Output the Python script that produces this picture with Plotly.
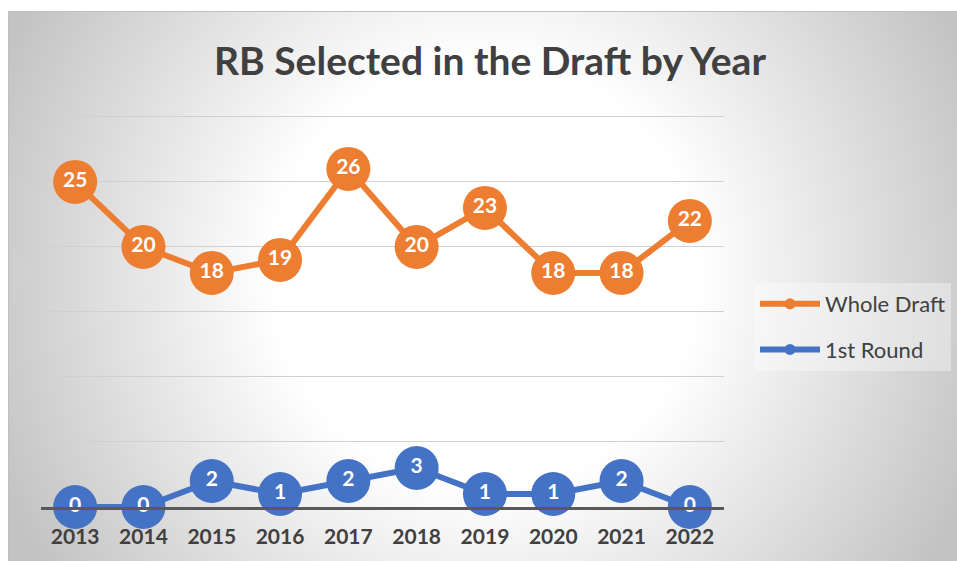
import base64
import struct
import zlib

import numpy as np
import plotly.graph_objects as go

# ---------------- data ----------------
years = ["2013", "2014", "2015", "2016", "2017", "2018", "2019", "2020", "2021", "2022"]
whole_draft = [25, 20, 18, 19, 26, 20, 23, 18, 18, 22]
first_round = [0, 0, 2, 1, 2, 3, 1, 1, 2, 0]
y_ticks = [0, 5, 10, 15, 20, 25, 30]

ORANGE = "#ED7D31"
BLUE = "#4472C4"
TEXT = "#404040"
FONT = "Lato"

# ---------------- figure geometry (px) ----------------
W, H = 957, 561
ML, MR, MT, MB = 41, 233, 113, 54
PW = W - ML - MR
PH = H - MT - MB
Y_MAX = 30.3

FRAME_L, FRAME_T = 8, 11


def png_uri(gray):
    h, w = gray.shape
    raw = b"".join(b"\x00" + gray[i].tobytes() for i in range(h))

    def chunk(tag, data):
        c = struct.pack(">I", len(data)) + tag + data
        return c + struct.pack(">I", zlib.crc32(tag + data) & 0xFFFFFFFF)

    png = b"\x89PNG\r\n\x1a\n"
    png += chunk(b"IHDR", struct.pack(">IIBBBBB", w, h, 8, 0, 0, 0, 0))
    png += chunk(b"IDAT", zlib.compress(raw, 9))
    png += chunk(b"IEND", b"")
    return "data:image/png;base64," + base64.b64encode(png).decode()


# radial background gradient
bh, bw = H - FRAME_T, W - FRAME_L
yy, xx = np.mgrid[0:bh, 0:bw]
sx = xx + FRAME_L
sy = yy + FRAME_T
d = np.sqrt((sx - 485.0) ** 2 + (sy - 273.0) ** 2)
val = 255 - 0.19 * np.clip(d - 215, 0, None)
bg = np.clip(val, 195, 255).astype(np.uint8)
bg_uri = png_uri(bg)


def px_x(px):
    return (px - ML) / PW


def px_y(py):
    return (MT + PH - py) / PH


fig = go.Figure()

label_font = dict(family=FONT, size=21, color="white", weight="bold")

fig.add_trace(go.Scatter(
    x=years, y=whole_draft, name="Whole Draft", mode="lines+markers+text",
    line=dict(color=ORANGE, width=6), marker=dict(size=44, color=ORANGE),
    text=[str(v) for v in whole_draft], textposition="middle center",
    textfont=label_font, cliponaxis=False, showlegend=False,
))
fig.add_trace(go.Scatter(
    x=years, y=first_round, name="1st Round", mode="lines+markers+text",
    line=dict(color=BLUE, width=6), marker=dict(size=44, color=BLUE),
    text=[str(v) for v in first_round], textposition="middle center",
    textfont=label_font, cliponaxis=False, showlegend=False,
))
# legend entries
fig.add_trace(go.Scatter(
    x=[None], y=[None], name="Whole Draft", mode="lines+markers",
    line=dict(color=ORANGE, width=6), marker=dict(size=11, color=ORANGE),
    legendgroup="a",
))
fig.add_trace(go.Scatter(
    x=[None], y=[None], name="1st Round", mode="lines+markers",
    line=dict(color=BLUE, width=6), marker=dict(size=11, color=BLUE),
    legendgroup="b",
))

fig.update_layout(
    width=W, height=H,
    margin=dict(l=ML, r=MR, t=MT, b=MB, pad=0, autoexpand=False),
    paper_bgcolor="white",
    plot_bgcolor="rgba(0,0,0,0)",
    hovermode=False,
    font=dict(family=FONT, color=TEXT),
    title=dict(
        text="<b>RB Selected in the Draft by Year</b>",
        font=dict(family=FONT, size=39, color=TEXT),
        x=490 / W, xanchor="center", xref="container",
        y=1 - 61 / H, yanchor="middle", yref="container",
    ),
    xaxis=dict(
        type="category", range=[-0.5, len(years) - 0.5],
        showgrid=False, showline=True, linecolor="#595959", linewidth=3,
        ticks="", ticklabelstandoff=9, automargin=False,
        tickfont=dict(family=FONT, size=21, color=TEXT, weight="bold"),
        zeroline=False, fixedrange=True,
    ),
    yaxis=dict(
        range=[0, Y_MAX], tickvals=y_ticks, showticklabels=False,
        showgrid=True, gridcolor="#d0d0d0", gridwidth=1, automargin=False,
        zeroline=False, showline=False, ticks="", fixedrange=True,
    ),
    legend=dict(
        x=755 / W, y=1 - 283 / H, xref="container", yref="container",
        xanchor="left", yanchor="top",
        bgcolor="rgba(255,255,255,0.35)",
        font=dict(family=FONT, size=22, color=TEXT),
        traceorder="grouped", tracegroupgap=14,
        itemwidth=60,
    ),
    images=[dict(
        source=bg_uri, xref="paper", yref="paper",
        x=px_x(FRAME_L), y=px_y(FRAME_T),
        sizex=bw / PW, sizey=bh / PH,
        xanchor="left", yanchor="top", sizing="stretch", layer="below",
    )],
    shapes=[
        dict(type="line", xref="paper", yref="paper",
             x0=px_x(FRAME_L + 0.5), x1=px_x(FRAME_L + 0.5),
             y0=px_y(H), y1=px_y(FRAME_T),
             line=dict(color="#bfbfbf", width=1), layer="below"),
        dict(type="line", xref="paper", yref="paper",
             x0=px_x(FRAME_L), x1=px_x(W),
             y0=px_y(FRAME_T + 0.5), y1=px_y(FRAME_T + 0.5),
             line=dict(color="#bfbfbf", width=1), layer="below"),
    ],
)

post = (
    "document.body.style.margin='0';"
    "document.body.style.overflow='hidden';"
)

fig.write_html("out.html", config={"displayModeBar": False}, post_script=post)
